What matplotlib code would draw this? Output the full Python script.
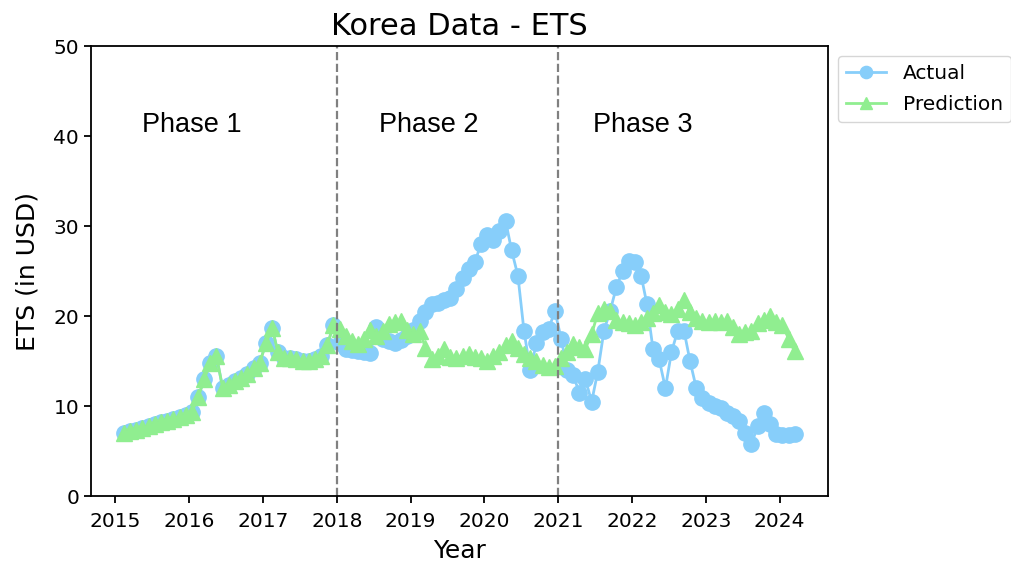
import numpy as np
import pandas as pd
import matplotlib
matplotlib.use("Agg")
import matplotlib.pyplot as plt
import matplotlib.dates as mdates

# monthly observations, Feb 2015 .. Mar 2024 (mid-month)
dates = pd.date_range("2015-02-01", "2024-03-01", freq="MS") + pd.Timedelta(days=14)

actual = [
    # 2015 (Feb-Dec)
    7.0, 7.2, 7.4, 7.6, 7.8, 8.0, 8.2, 8.4, 8.6, 8.8, 9.0,
    # 2016
    9.4, 11.0, 13.0, 14.8, 15.6, 12.0, 12.4, 12.8, 13.1, 13.6, 14.2, 14.8,
    # 2017
    17.0, 18.7, 16.0, 15.4, 15.3, 15.2, 15.0, 15.0, 15.2, 15.6, 16.8, 19.0,
    # 2018
    17.0, 16.3, 16.2, 16.1, 16.0, 15.9, 18.8, 17.5, 17.2, 17.0, 17.3, 17.8,
    # 2019
    18.5, 19.5, 20.5, 21.3, 21.5, 21.8, 22.0, 23.0, 24.2, 25.2, 26.0, 28.0,
    # 2020
    29.0, 28.5, 29.5, 30.6, 27.3, 24.5, 18.4, 14.0, 17.0, 18.2, 18.6, 20.6,
    # 2021
    17.5, 14.0, 13.5, 11.5, 13.0, 10.5, 13.8, 18.4, 20.6, 23.2, 25.0, 26.1,
    # 2022
    26.0, 24.5, 21.4, 16.3, 15.2, 12.0, 16.0, 18.4, 18.4, 15.0, 12.0, 10.9,
    # 2023
    10.4, 10.0, 9.8, 9.3, 8.9, 8.4, 7.0, 5.8, 7.8, 9.3, 8.0, 6.9,
    # 2024 (Jan-Mar)
    6.8, 6.8, 6.9,
]

# model fit over phase 1 follows the actual series
pred_phase1 = actual[:35]
pred_rest = [
    # 2018
    18.6, 17.8, 17.2, 16.9, 17.5, 18.5, 17.8, 18.3, 19.1, 19.3, 19.5, 18.5,
    # 2019
    18.0, 18.4, 16.5, 15.2, 15.6, 16.3, 15.5, 15.4, 15.6, 15.8, 15.5, 15.3,
    # 2020
    15.0, 15.6, 16.0, 16.8, 17.2, 16.5, 15.8, 15.3, 15.0, 14.6, 14.3, 14.5,
    # 2021
    15.4, 16.0, 16.9, 16.6, 16.4, 18.0, 20.3, 20.8, 20.6, 19.6, 19.3, 19.2,
    # 2022
    19.0, 19.4, 19.8, 20.4, 21.2, 20.5, 20.2, 20.8, 21.8, 20.5, 19.8, 19.5,
    # 2023
    19.4, 19.5, 19.4, 19.5, 18.8, 18.0, 18.2, 18.4, 19.2, 19.6, 20.0, 19.3,
    # 2024
    19.0, 17.5, 16.1,
]
prediction = pred_phase1 + pred_rest

phase_breaks = ["2018-01-01", "2021-01-01"]
phase_labels = ["Phase 1", "Phase 2", "Phase 3"]
phase_label_x = ["2015-05-15", "2018-07-30", "2021-06-20"]

fig = plt.figure(figsize=(10.11, 5.62), dpi=100)
ax = fig.add_axes([0.090, 0.117, 0.729, 0.801])

ax.plot(dates, actual, color="lightskyblue", marker="o", markersize=11,
        linewidth=2, label="Actual")
ax.plot(dates, prediction, color="lightgreen", marker="^", markersize=11,
        linewidth=2, label="Prediction")

for b in phase_breaks:
    ax.axvline(pd.Timestamp(b), color="grey", linestyle="--", linewidth=1.6)

for lbl, xs in zip(phase_labels, phase_label_x):
    ax.text(pd.Timestamp(xs), 41.2, lbl, fontsize=19.5, family="Liberation Sans",
            ha="left", va="center")

ax.set_ylim(0, 50)
ax.set_yticks(np.arange(0, 51, 10))
ax.xaxis.set_major_locator(mdates.YearLocator())
ax.xaxis.set_major_formatter(mdates.DateFormatter("%Y"))
ax.tick_params(labelsize=14.5, width=1.3, length=5)
ax.tick_params(axis="x", pad=6)
for s in ax.spines.values():
    s.set_linewidth(1.3)

ax.set_title("Korea Data - ETS", fontsize=22, pad=8)
ax.set_xlabel("Year", fontsize=18, labelpad=6)
ax.set_ylabel("ETS (in USD)", fontsize=18, labelpad=10)
ax.legend(loc="upper left", bbox_to_anchor=(1.0, 1.0), fontsize=14.5,
          labelspacing=0.6, markerscale=0.8)

fig.savefig("out.png", dpi=100)
